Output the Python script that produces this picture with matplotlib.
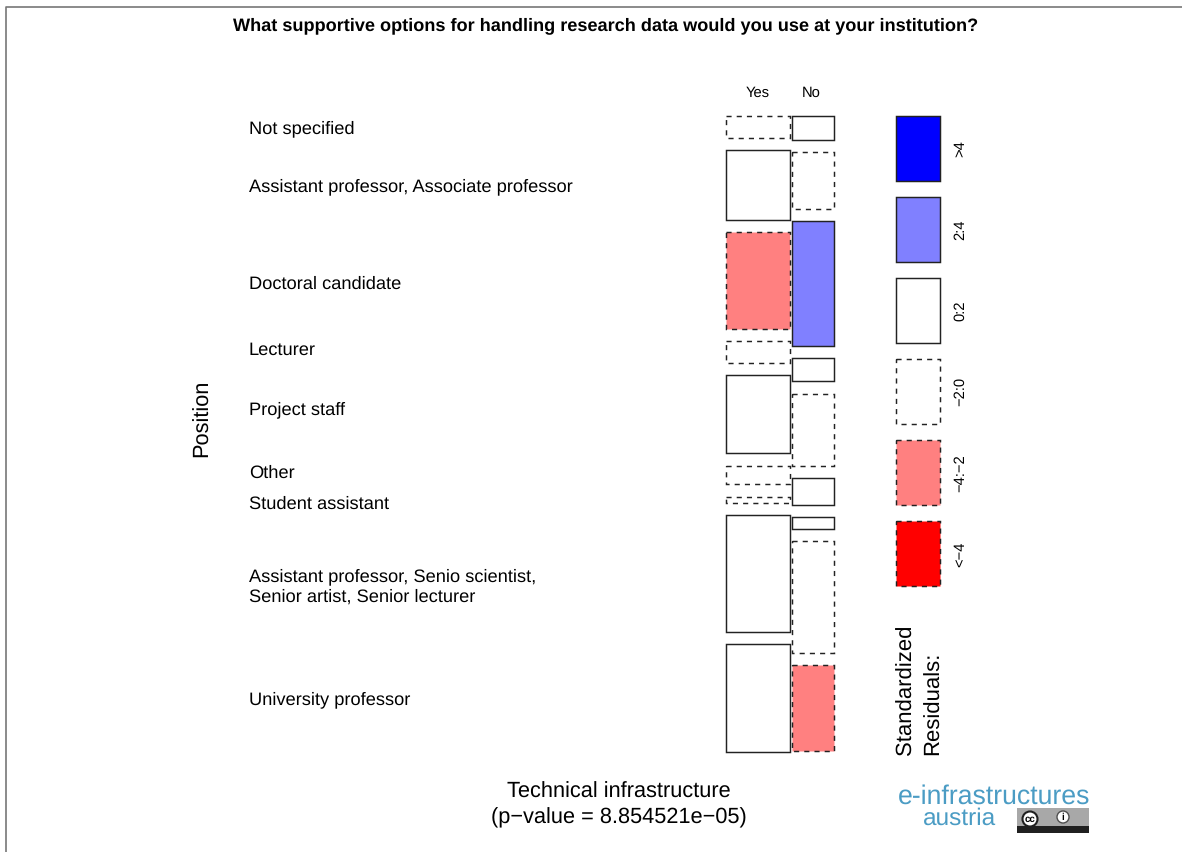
import matplotlib
matplotlib.use("Agg")
import matplotlib.pyplot as plt
from matplotlib.patches import Circle, Rectangle

plt.rcParams['font.family'] = ['Liberation Sans', 'DejaVu Sans']
plt.rcParams['text.hinting'] = 'no_hinting'

positions = ["Not specified", "Assistant professor, Associate professor", "Doctoral candidate",
             "Lecturer", "Project staff", "Other", "Student assistant",
             "Assistant professor, Senio scientist,\nSenior artist, Senior lecturer", "University professor"]
answers = ["Yes", "No"]

# cell heights of the mosaic, top to bottom
yes_sizes = [21.5, 69.5, 96.5, 22, 78, 18.5, 6, 117, 108]
no_sizes = [23.3, 56.7, 125, 23, 72, 26.7, 11.4, 112, 85.7]
answer_share = [0.602, 0.398]

yes_class = ["-2:0", "0:2", "-4:-2", "-2:0", "0:2", "-2:0", "-2:0", "0:2", "0:2"]
no_class = ["0:2", "-2:0", "2:4", "0:2", "-2:0", "0:2", "0:2", "-2:0", "-4:-2"]

legend_classes = [">4", "2:4", "0:2", "-2:0", "-4:-2", "<-4"]
legend_labels = [">4", "2:4", "0:2", "\u22122:0", "\u22124:\u22122", "<\u22124"]

class_color = {">4": "#0000ff", "2:4": "#8080ff", "0:2": "white",
               "-2:0": "white", "-4:-2": "#ff8080", "<-4": "#ff0000"}
DASH = (0, (3.5, 3.5))
label_y = [128.5, 186.5, 284, 350, 410, 473, 504, 586.5, 700]

fig = plt.figure(figsize=(11.82, 8.52), dpi=100)
ax = fig.add_axes([0, 0, 1, 1])
ax.set_xlim(0, 1182)
ax.set_ylim(852, 0)
ax.axis('off')

# page frame
ax.plot([6, 6, 1182], [852, 7, 7], color="#777777", lw=1.2, clip_on=False)


def class_style(c):
    if c.startswith("-") or c.startswith("<"):
        return DASH
    return "solid"


def draw_column(x0, width, sizes, classes, top=116.4, gap=12.35):
    y = top
    for s, c in zip(sizes, classes):
        ax.bar(x0, s, width, bottom=y, align='edge', facecolor=class_color[c],
               edgecolor="#222222", linewidth=1.05, linestyle=class_style(c))
        y += s + gap


total_w = 106
yes_w = total_w * answer_share[0]
no_w = total_w * answer_share[1]
draw_column(726.3, yes_w, yes_sizes, yes_class)
draw_column(726.3 + yes_w + 2, no_w, no_sizes, no_class)

ax.text(758, 93, answers[0], ha='center', va='center', fontsize=10.6)
ax.text(811, 93, answers[1], ha='center', va='center', fontsize=10.6)

for lab, y in zip(positions, label_y):
    ax.text(249, y, lab, ha='left', va='center', fontsize=13.17, linespacing=1.3)

# legend tiles
for i, (c, lab) in enumerate(zip(legend_classes, legend_labels)):
    top = 116.4 + i * 81
    ax.bar(896.3, 65, 44, bottom=top, align='edge', facecolor=class_color[c],
           edgecolor="#222222", linewidth=1.05, linestyle=class_style(c))
    ax.text(960, top + 32.5, lab, rotation=90, ha='center', va='center', fontsize=10.6)

ax.text(919.5, 755, "Standardized\nResiduals:", rotation=90, ha='center', va='bottom',
        multialignment='left', fontsize=15.9, linespacing=1.4)
ax.text(202, 418.5, "Position", rotation=90, ha='center', va='center', fontsize=15.7)

ax.text(606, 25.5, "What supportive options for handling research data would you use at your institution?",
        ha='center', va='center', fontsize=13.05, fontweight='bold')
ax.text(618.5, 792, "Technical infrastructure", ha='center', va='center', fontsize=15.7)
ax.text(618.5, 818, "(p\u2212value = 8.854521e\u221205)", ha='center', va='center', fontsize=15.7)

# logo
ax.text(994, 797, "e-infrastructures", ha='center', va='center', fontsize=19.2, color="#4b9cc4")
ax.text(960, 819, "austria", ha='center', va='center', fontsize=17.6, color="#4b9cc4")
ax.add_patch(Rectangle((1017, 808), 72, 25, facecolor="#a8a8a8", edgecolor="none"))
ax.add_patch(Rectangle((1017, 826), 72, 7, facecolor="#202020", edgecolor="none"))
ax.add_patch(Circle((1030, 819), 7.5, facecolor="white", edgecolor="#202020", lw=1.5))
ax.text(1030, 819, "cc", ha='center', va='center', fontsize=7, fontweight='bold')
ax.add_patch(Circle((1063, 817), 6, facecolor="white", edgecolor="#505050", lw=1))
ax.text(1063, 817, "i", ha='center', va='center', fontsize=7, fontweight='bold')

fig.savefig("out.png", dpi=100)
